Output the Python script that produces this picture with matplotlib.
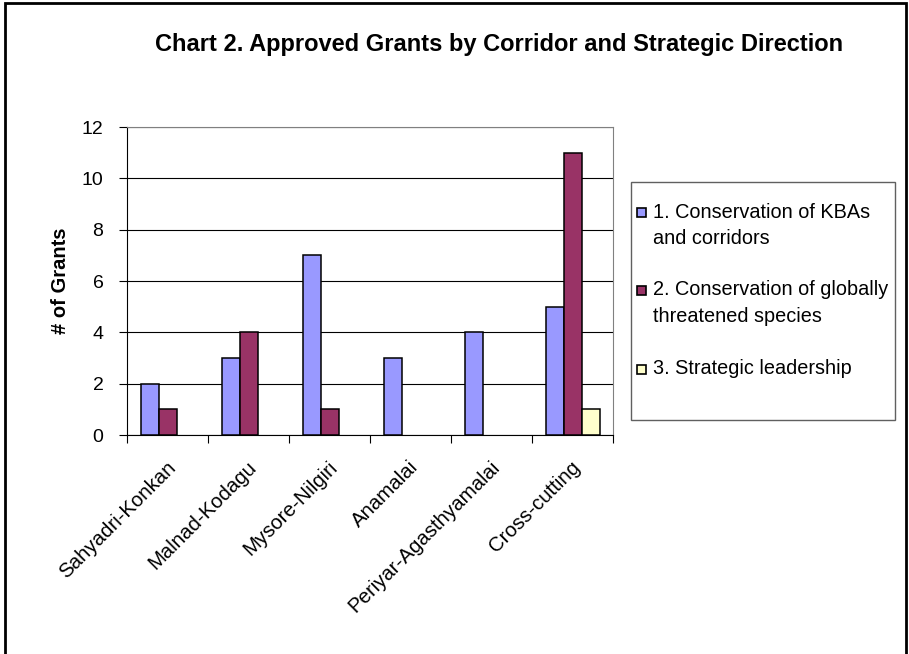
import numpy as np
import matplotlib
matplotlib.use("Agg")
import matplotlib.pyplot as plt
from matplotlib.patches import Rectangle
from matplotlib.transforms import ScaledTranslation

plt.rcParams['font.family'] = ['Liberation Sans', 'DejaVu Sans']

corridors = ["Sahyadri-Konkan", "Malnad-Kodagu", "Mysore-Nilgiri", "Anamalai",
             "Periyar-Agasthyamalai", "Cross-cutting"]
series_names = ["1. Conservation of KBAs\nand corridors",
                "2. Conservation of globally\nthreatened species",
                "3. Strategic leadership"]
kba_corridors = [2, 3, 7, 3, 4, 5]
threatened_species = [1, 4, 1, 0, 0, 11]
strategic_leadership = [0, 0, 0, 0, 0, 1]
colors = ["#9999FF", "#993366", "#FFFFCC"]

fig = plt.figure(figsize=(9.09, 6.54), dpi=100)
ax = fig.add_axes([127/909, 1 - 435/654, 486/909, 308/654])

x = np.arange(len(corridors))
w = 1 / 4.5
for i, vals in enumerate([kba_corridors, threatened_species, strategic_leadership]):
    bars = ax.bar(x + (i - 1) * w, vals, width=w, color=colors[i], edgecolor="black",
                  linewidth=1.1, zorder=3)
    # excel shows nothing for empty values
    for b, v in zip(bars, vals):
        if v == 0:
            b.set_visible(False)

ax.set_xlim(-0.5, len(corridors) - 0.5)
ax.set_ylim(0, 12)
ax.set_yticks(range(0, 13, 2))
ax.yaxis.grid(True, color="black", linewidth=0.8, zorder=0)

# category tick marks sit between groups
ax.set_xticks(np.arange(-0.5, len(corridors), 1))
ax.set_xticklabels([])
ax.set_xticks(x, minor=True)
ax.set_xticklabels(corridors, minor=True, rotation=45, ha="right", va="center",
                   rotation_mode="anchor", fontsize=14.7)
ax.tick_params(axis="x", which="minor", length=0, pad=21)
ax.tick_params(axis="x", which="major", length=6, direction="out")
ax.tick_params(axis="y", length=6, direction="out", labelsize=14, pad=11)
shift = ScaledTranslation(5/100, 0, fig.dpi_scale_trans)
for lab in ax.get_xticklabels(minor=True):
    lab.set_transform(lab.get_transform() + shift)

for side in ["top", "right"]:
    ax.spines[side].set_color("#808080")
ax.spines["left"].set_color("black")
ax.spines["bottom"].set_color("black")

ax.set_ylabel("# of Grants", fontsize=14.5, fontweight="bold")
ax.yaxis.set_label_coords(-(127 - 70) / 486, 0.5)

fig.text(499/909, 1 - 45/654, "Chart 2. Approved Grants by Corridor and Strategic Direction",
         ha="center", va="center", fontsize=17, fontweight="bold")

# legend box, drawn by hand to get the excel spacing
fig.patches.append(Rectangle((631/909, 1 - 420/654), 264/909, 238/654,
                             transform=fig.transFigure, facecolor="white",
                             edgecolor="#606060", linewidth=1.0))
row_tops = [212, 290, 369]
for name, c, y0 in zip(series_names, colors, row_tops):
    fig.patches.append(Rectangle((637/909, 1 - (y0 + 5)/654), 9/909, 9/654,
                                 transform=fig.transFigure, facecolor=c,
                                 edgecolor="black", linewidth=1.2))
    for k, line in enumerate(name.split("\n")):
        fig.text(653/909, 1 - (y0 + 26*k)/654, line, ha="left", va="center",
                 fontsize=14.3)

# outer chart border
fig.patches.append(Rectangle((5/909, -0.05), 901/909, 1.05 - 3/654,
                             transform=fig.transFigure, fill=False,
                             edgecolor="black", linewidth=2.0))

fig.savefig("out.png", dpi=100)
